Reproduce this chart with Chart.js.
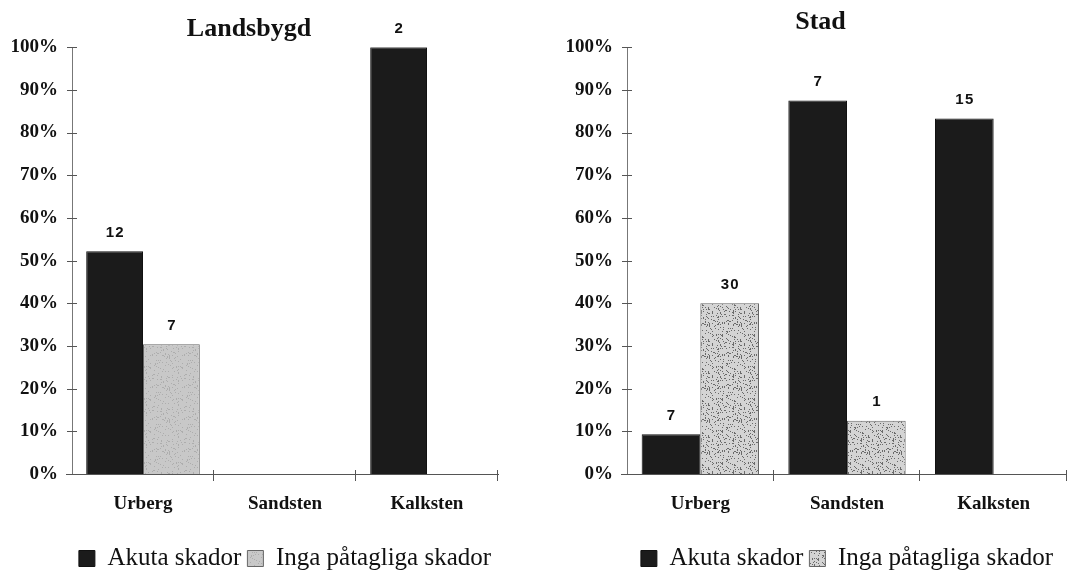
<!DOCTYPE html>
<html>
<head>
<meta charset="utf-8">
<script src="https://cdn.jsdelivr.net/npm/chart.js@4/dist/chart.umd.min.js"></script>
<style>
  html, body { margin: 0; padding: 0; background: #ffffff; overflow: hidden; width: 1067px; height: 572px; }
  .panel { position: absolute; top: 0; height: 581px; }
  #left { left: 0; width: 540px; }
  #right { left: 540px; width: 527px; }
</style>
</head>
<body>
<div class="panel" id="left"><canvas id="c1"></canvas></div>
<div class="panel" id="right"><canvas id="c2"></canvas></div>
<script>
// Bergarter (kategorier)
const categories = ['Urberg', 'Sandsten', 'Kalksten'];
const seriesNames = ['Akuta skador', 'Inga påtagliga skador'];

// Andel i procent per bergart
const landsbygdAkuta = [52.2, 0, 100];
const landsbygdInga = [30.4, 0, 0];
const stadAkuta = [9.3, 87.5, 83.3];
const stadInga = [40, 12.5, 0];

// Antal (visas ovanför staplarna), null = ingen etikett
const landsbygdAkutaN = [12, null, 2];
const landsbygdIngaN = [7, null, null];
const stadAkutaN = [7, 7, 15];
const stadIngaN = [30, 1, null];

const yTicks = [0, 10, 20, 30, 40, 50, 60, 70, 80, 90, 100];

// Prickigt grått raster för "Inga påtagliga skador"
function stipple(base, dot, density) {
  const c = document.createElement('canvas');
  c.width = 32; c.height = 32;
  const g = c.getContext('2d');
  g.fillStyle = base;
  g.fillRect(0, 0, 32, 32);
  g.fillStyle = dot;
  for (let y = 0; y < 32; y++) {
    for (let x = 0; x < 32; x++) {
      const h = (x * 73856093 ^ y * 19349663 ^ (x * y * 83492791)) >>> 0;
      if (h % 100 < density) g.fillRect(x, y, 1, 1);
    }
  }
  return g.createPattern(c, 'repeat');
}

const darkFill = '#1b1b1b';
const lightFillL = stipple('#c8c8c8', '#adadad', 10);
const lightFillR = stipple('#d4d4d4', '#6a6a6a', 15);

// Antal ovanför staplarna, korsande skalstreck och titelns sidoförskjutning
const barCounts = {
  id: 'barCounts',
  afterLayout(chart, args, opts) {
    const t = chart.titleBlock;
    if (t && opts.titleShift) { t.left += opts.titleShift; t.right += opts.titleShift; }
  },
  afterDatasetsDraw(chart, args, opts) {
    const ctx = chart.ctx;
    ctx.save();
    ctx.font = 'bold 15px "Liberation Sans", Arial, sans-serif';
    ctx.fillStyle = '#111';
    ctx.textAlign = 'center';
    ctx.textBaseline = 'bottom';
    opts.counts.forEach((arr, di) => {
      const meta = chart.getDatasetMeta(di);
      meta.data.forEach((bar, i) => {
        if (arr[i] == null) return;
        ctx.fillText(String(arr[i]).split('').join('\u200A'), bar.x, bar.y - 11);
      });
    });
    ctx.restore();
  },
  afterDraw(chart) {
    const ctx = chart.ctx;
    const xs = chart.scales.x, ys = chart.scales.y;
    const ax = xs.left, by = ys.bottom;
    ctx.save();
    ctx.strokeStyle = '#555';
    ctx.lineWidth = 1;
    ctx.beginPath();
    ys.ticks.forEach((t, i) => {
      const y = Math.round(ys.getPixelForTick(i)) + 0.5;
      ctx.moveTo(ax - 5, y); ctx.lineTo(ax + 5, y);
    });
    const n = xs.ticks.length;
    const w = (xs.right - xs.left) / n;
    for (let i = 1; i <= n; i++) {
      const x = Math.round(xs.left + i * w) - 0.5;
      ctx.moveTo(x, by - 4); ctx.lineTo(x, by + 7);
    }
    ctx.moveTo(ax - 6, Math.round(by) + 0.5); ctx.lineTo(ax, Math.round(by) + 0.5);
    ctx.stroke();
    ctx.restore();
  }
};

function makeChart(id, title, akuta, inga, akutaN, ingaN, lightFill, pad, titlePad, yWidth, titleShift) {
  return new Chart(document.getElementById(id), {
    type: 'bar',
    data: {
      labels: categories,
      datasets: [
        { label: seriesNames[0], data: akuta, backgroundColor: darkFill, borderColor: '#111', borderWidth: 1 },
        { label: seriesNames[1], data: inga, backgroundColor: lightFill, borderColor: '#666', borderWidth: 1 }
      ]
    },
    plugins: [barCounts],
    options: {
      responsive: true,
      maintainAspectRatio: false,
      animation: false,
      layout: { padding: pad },
      categoryPercentage: 0.8,
      barPercentage: 1.0,
      plugins: {
        barCounts: { counts: [akutaN, ingaN], titleShift: titleShift },
        tooltip: { enabled: false },
        title: {
          display: true,
          text: title,
          color: '#111',
          font: { family: '"Liberation Serif", "Times New Roman", serif', size: 26, weight: 'bold' },
          padding: titlePad
        },
        legend: {
          position: 'bottom',
          fullSize: false,
          labels: {
            color: '#111',
            boxWidth: 16,
            boxHeight: 16,
            padding: 6,
            font: { family: '"Liberation Serif", "Times New Roman", serif', size: 25 }
          }
        }
      },
      scales: {
        x: {
          grid: { display: false, drawTicks: false },
          border: { display: true, color: '#555', width: 1 },
          ticks: {
            color: '#111',
            padding: 19,
            font: { family: '"Liberation Serif", "Times New Roman", serif', size: 19, weight: 'bold' }
          },
          afterFit(s) { s.height = 66; }
        },
        y: {
          min: 0,
          max: 100,
          afterBuildTicks(s) { s.ticks = yTicks.map(v => ({ value: v })); },
          grid: { display: false, drawTicks: false },
          border: { display: true, color: '#777', width: 1 },
          ticks: {
            color: '#111',
            padding: 14,
            callback: v => v + '%',
            font: { family: '"Liberation Serif", "Times New Roman", serif', size: 19, weight: 'bold' }
          },
          afterFit(s) { s.width = yWidth; }
        }
      }
    }
  });
}

makeChart('c1', 'Landsbygd', landsbygdAkuta, landsbygdInga, landsbygdAkutaN, landsbygdIngaN, lightFillL,
  { left: 0, right: 42, top: 0, bottom: 0 }, { top: 14, bottom: 2 }, 72, 0);
makeChart('c2', 'Stad', stadAkuta, stadInga, stadAkutaN, stadIngaN, lightFillR,
  { left: 0, right: 0, top: 0, bottom: 0 }, { top: 7, bottom: 9 }, 87, 17);
</script>
</body>
</html>
